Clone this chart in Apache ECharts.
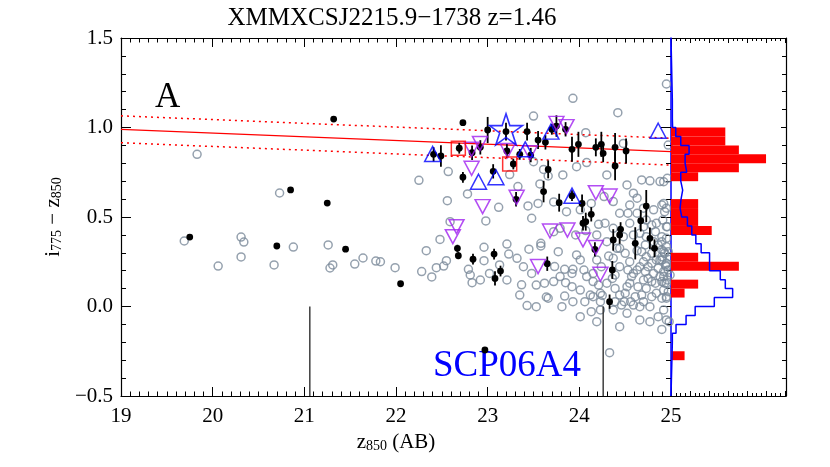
<!DOCTYPE html>
<html><head><meta charset="utf-8">
<script src="https://cdn.jsdelivr.net/npm/echarts@6/dist/echarts.min.js"></script>
<style>html,body{margin:0;padding:0;background:#fff}#c{width:830px;height:467px}</style>
</head><body><div id="c"></div>
<script>
const chartTitle = 'XMMXCSJ2215.9\u22121738 z=1.46';
const panelLabel = 'A';
const clusterLabel = 'SCP06A4';
const xTicks = [19, 20, 21, 22, 23, 24, 25];
const yTicks = [-0.5, 0, 0.5, 1.0, 1.5];

// all galaxies (open grey circles): [z850, i775-z850]
const grayCircles = [
 [19.83,0.85],[19.69,0.366],[20.06,0.226],[20.31,0.388],[20.34,0.36],[20.31,0.277],[20.67,0.232],[20.88,0.332],
 [20.73,0.634],[21.26,0.344],[21.28,0.215],[21.31,0.232],[21.55,0.237],[21.64,0.271],[21.78,0.254],
 [22.57,0.754],[22.25,0.705],[23.24,0.737],[23.66,0.729],[23.82,0.735],[23.33,0.67],[23.57,0.685],[24.30,0.735],
 [24.52,0.679],[24.59,0.633],[24.68,0.707],[24.77,0.702],[24.88,0.698],[24.96,0.716],[22.56,0.591],[22.78,0.629],
 [23.12,0.554],[23.44,0.562],[23.48,0.493],[23.55,0.576],[23.72,0.584],[23.86,0.53],[24.01,0.54],[24.13,0.576],
 [24.27,0.614],[24.37,0.586],[24.44,0.521],[24.55,0.567],[24.63,0.605],[24.70,0.549],[24.81,0.54],[24.92,0.576],
 [24.95,0.549],[22.59,0.474],[22.98,0.478],[22.48,0.375],[22.33,0.312],[21.99,0.217],[21.83,0.25],[22.28,0.195],
 [22.39,0.165],[22.44,0.217],[22.52,0.226],[22.55,0.256],[22.79,0.208],[22.81,0.176],[22.83,0.133],[22.96,0.256],
 [22.96,0.331],[23.21,0.349],[23.23,0.293],[23.21,0.148],[23.37,0.121],[23.45,0.32],[23.58,0.353],[23.58,0.338],
 [23.62,0.13],[23.64,0.053],[23.43,0.005],[23.73,0.223],[23.77,0.306],[23.84,0.208],[23.93,0.208],[23.92,0.185],
 [23.97,0.288],[24.01,0.26],[24.05,0.204],[23.85,0.133],[23.72,0.418],[23.79,0.437],[23.96,0.4],[24.07,0.424],
 [24.12,0.064],[24.13,-0.029],[24.15,0.055],[24.21,0.459],[24.23,0.074],[24.25,0.062],[24.28,0.465],[24.32,0.282],
 [24.36,0.157],[24.39,0.101],[24.39,0.027],[24.44,0.222],[24.46,0.008],[24.49,0.027],[24.50,0.297],[24.55,0.465],
 [24.55,0.25],[24.55,0.13],[24.59,0.4],[24.59,0.185],[24.63,0.312],[24.64,0.11],[24.66,0.222],[24.70,0.027],
 [24.73,0.278],[24.75,0.157],[24.77,-0.085],[24.79,0.055],[24.83,0.418],[24.84,0.26],[24.86,0.213],[24.88,0.167],
 [24.90,0.39],[24.92,0.306],[24.93,0.13],[24.95,0.046],[24.95,0.334],[24.96,0.446],[24.97,0.204],[24.98,-0.085],
 [24.33,-0.258],[23.93,0.027],[23.84,0.058],[23.66,0.046],
 [23.93,1.163],[23.50,1.064],[24.42,1.083],[24.07,0.971],[24.48,0.911],[23.97,0.781],[24.08,0.804],[23.50,0.809],[23.61,0.766],
 [24.95,1.243],[24.97,0.902],[24.92,0.697],[24.90,0.567],[24.93,0.53],[24.91,0.483],[24.95,0.446],[24.90,0.316],
 [24.93,0.297],[24.90,0.26],[24.95,0.223],[24.92,0.167],[24.95,0.13],[24.95,0.055],[24.95,-0.075],[24.90,-0.128],
 [24.44,0.325],[24.53,0.204],[24.70,0.446],[24.72,0.344],[24.75,0.222],[24.81,0.185],[24.83,0.13],[24.88,0.26],
 [24.92,0.092],[24.96,0.148],[24.94,0.232],[24.99,0.278],[24.86,0.344],[24.66,-0.001],[24.61,0.055],[24.50,0.074],
 [24.56,0.027],[24.39,0.176],[24.23,0.027],[24.15,0.185],[24.21,0.12],[24.30,0.13],
 [24.53,0.521],[24.63,0.521],[24.73,0.483],[24.79,0.455],[24.84,0.465],[24.73,0.39],[24.81,0.362],[24.90,0.362],
 [24.95,0.381],[24.68,0.306],[24.79,0.297],[24.90,0.278],[24.97,0.306],[24.70,0.25],[24.79,0.241],[24.95,0.241],
 [24.63,0.204],[24.72,0.195],[24.92,0.195],[24.99,0.176],[24.57,0.167],[24.70,0.148],[24.79,0.139],[24.90,0.139],
 [24.52,0.111],[24.73,0.101],[24.84,0.074],[24.97,0.083],[24.44,0.064],[24.68,0.064],[24.90,0.046],[24.59,0.008],
 [24.77,-0.001],[24.92,-0.019],[24.86,-0.057],[24.37,-0.019],[24.23,-0.019],[24.06,0.027],[24.01,0.092],[23.92,0.111],
 [24.15,0.139],[24.08,0.167],[24.24,0.222],[24.19,0.26],[24.37,0.269],[24.41,0.325],[24.30,0.362],[24.19,0.40],
 [24.48,0.39],[24.37,0.437],[24.66,0.409],[23.79,0.167],[23.72,0.139],[23.53,0.12],[23.48,0.185],[23.39,0.222],
 [23.32,0.269],[23.13,0.232],[23.02,0.185],[22.92,0.148],[23.35,0.064],[23.53,-0.001],[23.81,-0.001],[24.01,-0.057],
 [24.52,-0.038],[24.66,-0.075],[24.44,-0.113],[24.19,-0.085]
];

// early-type members with error bars (filled black): [z850, colour, error]
const blackPoints = [
 [22.73,1.027,0.01],[22.49,0.841,0.06],[22.69,0.884,0.03],[22.83,0.859,0.04],[22.92,0.889,0.04],[23.00,0.986,0.073],
 [23.20,0.977,0.05],[23.21,0.869,0.04],[23.43,0.977,0.05],[23.55,0.93,0.05],[23.63,0.917,0.04],[23.70,0.99,0.03],
 [23.75,1.008,0.06],[23.85,0.99,0.04],[23.35,0.85,0.03],[23.47,0.846,0.04],[23.28,0.796,0.03],[23.06,0.755,0.04],
 [22.73,0.722,0.03],[23.66,0.766,0.05],[23.92,0.878,0.07],[23.99,0.906,0.07],[24.18,0.889,0.05],[24.24,0.906,0.07],
 [24.26,0.856,0.05],[24.39,0.889,0.08],[24.51,0.869,0.07],[24.39,0.785,0.08],[22.41,0.85,0.04],
 [23.61,0.642,0.06],[23.78,0.58,0.05],[23.92,0.619,0.03],[24.03,0.576,0.05],[24.13,0.515,0.04],[24.04,0.465,0.04],
 [24.07,0.474,0.05],[23.31,0.599,0.04],[22.67,0.325,0.02],[22.68,0.284,0.02],[22.84,0.264,0.03],[23.07,0.293,0.03],
 [23.14,0.198,0.03],[23.08,0.157,0.04],[23.65,0.239,0.04],[24.17,0.319,0.04],[24.36,0.204,0.05],[24.33,0.027,0.04],
 [24.37,0.372,0.06],[24.44,0.40,0.05],[24.45,0.431,0.04],[24.61,0.353,0.09],[24.67,0.479,0.06],[24.73,0.561,0.09],
 [24.77,0.381,0.06],[24.82,0.325,0.05],[22.97,-0.243,0],
 [21.32,1.047,0],[20.85,0.651,0],[21.25,0.578,0],[19.75,0.388,0],[20.70,0.338,0],[21.45,0.32,0],[22.05,0.127,0]
];

const blueTriangles = [[22.40,0.852],[22.90,0.697],[23.09,0.722],[23.69,0.977],[23.92,0.619],[24.86,0.982],[23.41,0.878]];
const purpleTriangles = [
 [22.825,0.878],[22.916,0.911],[22.825,0.772],[22.945,0.558],[23.218,0.871],[23.316,0.61],[23.46,0.859],[23.75,1.023],
 [23.86,1.005],[24.18,0.636],[24.33,0.617],[22.66,0.446],[22.62,0.39],[23.68,0.422],[23.87,0.427],[24.04,0.372],
 [24.18,0.33],[23.55,0.223],[24.23,0.18]
];
const redSquares = [[22.68,0.884],[23.24,0.796]];
const blueStar = [[23.20,0.99]];

// colour-magnitude relation and its scatter
const fitLine = [[19, 0.99], [25, 0.865]];
const fitUpper = [[19, 1.065], [25, 0.94]];
const fitLower = [[19, 0.915], [25, 0.79]];
// vertical magnitude markers
const limitA = [[21.06, 0], [21.06, -0.5]];
const limitB = [[24.26, 0], [24.26, -0.5]];

// colour histograms (right panel): [low, high, value]
const redHist = [
 [0.95,1.00,4],[0.90,0.95,4],[0.85,0.90,5],[0.80,0.85,7],[0.75,0.80,5],[0.70,0.75,2],[0.55,0.60,2],[0.50,0.55,2],
 [0.45,0.50,2],[0.40,0.45,3],[0.25,0.30,2],[0.20,0.25,5],[0.10,0.15,2],[0.05,0.10,1],[-0.30,-0.25,1]
];
const blueHist = [
 [1.10,1.15,0.1],[1.05,1.10,0.1],[1.00,1.05,0.12],[0.95,1.00,0.35],[0.90,0.95,0.72],[0.85,0.90,1.33],[0.80,0.85,1.04],
 [0.75,0.80,1.16],[0.70,0.75,0.72],[0.65,0.70,0.86],[0.60,0.65,0.74],[0.55,0.60,0.67],[0.50,0.55,0.79],[0.45,0.50,1.21],
 [0.40,0.45,1.53],[0.35,0.40,1.83],[0.30,0.35,2.22],[0.25,0.30,2.84],[0.20,0.25,2.84],[0.15,0.20,3.63],[0.10,0.15,4.0],
 [0.05,0.10,4.54],[0.00,0.05,3.19],[-0.05,0.00,1.78],[-0.10,-0.05,1.11],[-0.15,-0.10,0.37],[-0.20,-0.15,0.1]
];

const FONT = '"Liberation Serif","Times New Roman",serif';
const blueStep = [[0, 1.5]];
blueHist.forEach(b => { blueStep.push([b[2], b[1]]); blueStep.push([b[2], b[0]]); });
blueStep.push([0, blueHist[blueHist.length-1][0]]);
blueStep.push([0, -0.5]);

const chart = echarts.init(document.getElementById('c'), null, {renderer: 'canvas'});
const tickStyle = {color: '#000', width: 1};
const axisLineStyle = {color: '#000', width: 1.2};
function mainX(pos, showLabel, name) {
  return {
    gridIndex: 0, type: 'value', min: xTicks[0], max: xTicks[xTicks.length-1], interval: 1, position: pos,
    axisLine: {show: true, onZero: false, lineStyle: axisLineStyle},
    axisTick: {show: true, inside: true, length: 9, lineStyle: tickStyle},
    minorTick: {show: true, splitNumber: 10, length: 4.5, lineStyle: tickStyle},
    splitLine: {show: false}, minorSplitLine: {show: false},
    axisLabel: {show: showLabel, fontFamily: FONT, fontSize: 21, color: '#000', margin: 10,
      formatter: v => xTicks.indexOf(v) >= 0 ? String(v) : ''},
    name: name || '', nameLocation: 'middle', nameGap: 33,
    nameTextStyle: {fontFamily: FONT, fontSize: 21, color: '#000',
      rich: {n: {fontFamily: FONT, fontSize: 21, color: '#000'}, s: {fontFamily: FONT, fontSize: 14, color: '#000', verticalAlign: 'bottom', lineHeight: 8}}}
  };
}
function histX(pos) {
  return {
    gridIndex: 1, type: 'value', min: 0, max: 8.47, interval: 1.4, position: pos,
    axisLine: {show: true, onZero: false, lineStyle: axisLineStyle},
    axisTick: {show: true, inside: true, length: 5, lineStyle: tickStyle},
    minorTick: {show: true, splitNumber: 4, length: 3, lineStyle: tickStyle},
    splitLine: {show: false}, axisLabel: {show: false}
  };
}
function yAx(grid, pos, opts) {
  return Object.assign({
    gridIndex: grid, type: 'value', min: yTicks[0], max: yTicks[yTicks.length-1], interval: 0.5, position: pos,
    axisLine: {show: true, onZero: false, lineStyle: axisLineStyle},
    axisTick: {show: true, inside: true, length: 10, lineStyle: tickStyle},
    minorTick: {show: true, splitNumber: 5, length: 5, lineStyle: tickStyle},
    splitLine: {show: false}, axisLabel: {show: false}
  }, opts);
}

const option = {
  animation: false,
  backgroundColor: '#fff',
  grid: [
    {left: 121, top: 38, width: 550, height: 358, containLabel: false},
    {left: 671, top: 38, width: 115, height: 358, containLabel: false}
  ],
  xAxis: [mainX('bottom', true, '{n|z}{s|850}{n| (AB)}'), mainX('top', false), histX('bottom'), histX('top')],
  yAxis: [
    yAx(0, 'left', {
      axisLabel: {show: true, fontFamily: FONT, fontSize: 21, color: '#000', margin: 8,
        formatter: v => yTicks.indexOf(v) >= 0 ? (v < 0 ? '\u2212' + Math.abs(v).toFixed(1) : v.toFixed(1)) : ''},
      name: '{n|i}{s|775}{n| \u2212 z}{s|850}', nameLocation: 'middle', nameRotate: 90, nameGap: 50,
      nameTextStyle: {fontFamily: FONT, fontSize: 21, color: '#000',
        rich: {n: {fontFamily: FONT, fontSize: 21, color: '#000'}, s: {fontFamily: FONT, fontSize: 14, color: '#000', verticalAlign: 'bottom', lineHeight: 8}}}
    }),
    yAx(0, 'right', {axisLine: {show: false}}),
    yAx(1, 'left', {axisLine: {show: true, onZero: false, lineStyle: {color: '#0000ff', width: 1.5}}, axisTick: {show: false}, minorTick: {show: false}}),
    yAx(1, 'right', {axisTick: {show: true, inside: true, length: 5, lineStyle: tickStyle}, minorTick: {show: true, splitNumber: 5, length: 4, lineStyle: tickStyle}})
  ],
  series: [
    {type: 'scatter', xAxisIndex: 0, yAxisIndex: 0, data: grayCircles, symbol: 'circle', symbolSize: 8, z: 1,
      itemStyle: {color: 'rgba(0,0,0,0)', borderColor: '#7b8a9a', borderWidth: 1.5}, silent: true},
    {type: 'line', xAxisIndex: 0, yAxisIndex: 0, data: fitLine, symbol: 'none', z: 2, lineStyle: {color: '#ff0000', width: 1.3}},
    {type: 'line', xAxisIndex: 0, yAxisIndex: 0, data: fitUpper, symbol: 'none', z: 2, lineStyle: {color: '#ff0000', width: 1.5, type: [2, 4]}},
    {type: 'line', xAxisIndex: 0, yAxisIndex: 0, data: fitLower, symbol: 'none', z: 2, lineStyle: {color: '#ff0000', width: 1.5, type: [2, 4]}},
    {type: 'line', xAxisIndex: 0, yAxisIndex: 0, data: limitA, symbol: 'none', z: 2, lineStyle: {color: '#222', width: 1.3}},
    {type: 'line', xAxisIndex: 0, yAxisIndex: 0, data: limitB, symbol: 'none', z: 2, lineStyle: {color: '#222', width: 1.3}},
    {type: 'custom', xAxisIndex: 0, yAxisIndex: 0, data: blackPoints, z: 3, encode: {x: 0, y: 1},
      renderItem: function (params, api) {
        const x = api.value(0), y = api.value(1), e = api.value(2);
        const c = api.coord([x, y]);
        const ch = [];
        if (e > 0) {
          const a = api.coord([x, y - e]), b = api.coord([x, y + e]);
          ch.push({type: 'line', shape: {x1: a[0], y1: a[1], x2: b[0], y2: b[1]}, style: {stroke: '#000', lineWidth: 1.8}});
        }
        ch.push({type: 'circle', shape: {cx: c[0], cy: c[1], r: 3.4}, style: {fill: '#000'}});
        return {type: 'group', children: ch};
      }},
    {type: 'scatter', xAxisIndex: 0, yAxisIndex: 0, data: purpleTriangles, symbol: 'triangle', symbolRotate: 180, symbolSize: [15, 14], z: 4,
      itemStyle: {color: 'rgba(0,0,0,0)', borderColor: '#a020f0', borderWidth: 1.5}},
    {type: 'scatter', xAxisIndex: 0, yAxisIndex: 0, data: blueTriangles, symbol: 'triangle', symbolSize: [16, 15], z: 4,
      itemStyle: {color: 'rgba(0,0,0,0)', borderColor: '#0000ff', borderWidth: 1.5}},
    {type: 'scatter', xAxisIndex: 0, yAxisIndex: 0, data: redSquares, symbol: 'rect', symbolSize: 14, z: 4,
      itemStyle: {color: 'rgba(0,0,0,0)', borderColor: '#ff0000', borderWidth: 1.5}},
    {type: 'scatter', xAxisIndex: 0, yAxisIndex: 0, data: blueStar, z: 5,
      symbol: 'path://M100,0L122.45,69.1L195.1,69.1L136.3,111.8L158.8,180.9L100,138.2L41.2,180.9L63.7,111.8L4.9,69.1L77.55,69.1Z',
      symbolSize: [33, 31], itemStyle: {color: 'rgba(0,0,0,0)', borderColor: '#0000ff', borderWidth: 1.6}},
    {type: 'custom', xAxisIndex: 2, yAxisIndex: 2, data: redHist, z: 2, encode: {x: 2, y: [0, 1]},
      renderItem: function (params, api) {
        const p0 = api.coord([0, api.value(1)]), p1 = api.coord([api.value(2), api.value(0)]);
        return {type: 'rect', shape: {x: p0[0], y: p0[1], width: p1[0] - p0[0], height: p1[1] - p0[1]}, style: {fill: '#ff0000'}};
      }},
    {type: 'line', xAxisIndex: 2, yAxisIndex: 2, data: blueStep, symbol: 'none', z: 3, lineStyle: {color: '#0000ff', width: 1.5}}
  ],
  graphic: [
    {type: 'text', x: 392, y: 18, style: {text: chartTitle, font: '25px ' + FONT, fill: '#000', textAlign: 'center', textVerticalAlign: 'middle'}},
    {type: 'text', x: 155, y: 98, style: {text: panelLabel, font: '35px ' + FONT, fill: '#000', textVerticalAlign: 'middle'}},
    {type: 'text', x: 433, y: 366, style: {text: clusterLabel, font: '37px ' + FONT, fill: '#0000ff', textVerticalAlign: 'middle'}}
  ]
};
chart.setOption(option);
</script>
</body></html>
